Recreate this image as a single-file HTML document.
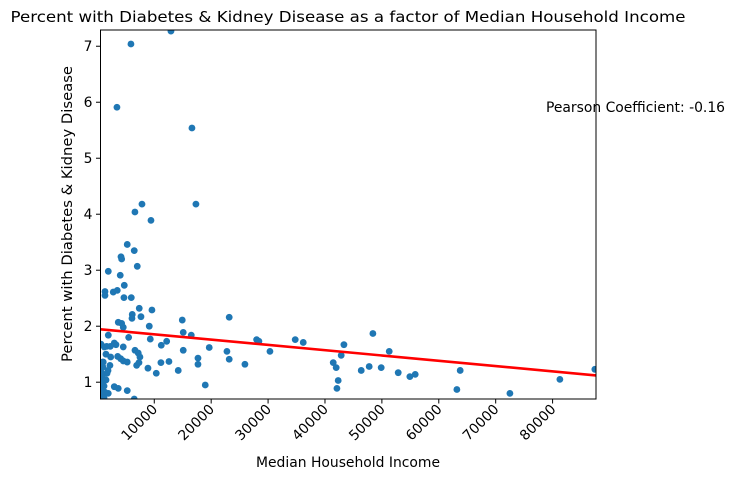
<!DOCTYPE html>
<html><head><meta charset="utf-8"><style>
html,body{margin:0;padding:0;background:#fff;}
svg{display:block;font-family:"DejaVu Sans","Liberation Sans",sans-serif;}
</style></head><body>
<svg id="chart" width="735" height="480" viewBox="0 0 735 480">
<text x="348" y="22" text-anchor="middle" font-size="15.5" textLength="675" lengthAdjust="spacingAndGlyphs" fill="#000">Percent with Diabetes &amp; Kidney Disease as a factor of Median Household Income</text>
<g id="plot"></g>
<text x="348" y="467" text-anchor="middle" font-size="13.9" textLength="184" lengthAdjust="spacingAndGlyphs">Median Household Income</text>
<text transform="translate(72,214) rotate(-90)" text-anchor="middle" font-size="13.9" textLength="296" lengthAdjust="spacingAndGlyphs">Percent with Diabetes &amp; Kidney Disease</text>
<text x="546" y="112" font-size="13.9" textLength="179" lengthAdjust="spacingAndGlyphs">Pearson Coefficient: -0.16</text>
</svg>
<script>
const income = [5900,12930,3440,16620,17320,7840,6600,9420,5250,6480,4150,4270,7010,1920,4020,4730,1340,1340,2790,3500,4670,5960,7360,9590,6130,6080,7660,14920,23170,3670,4270,4550,9120,15090,16500,1920,5500,9300,2970,3270,4550,11230,12180,630,1630,2270,19660,22770,15090,6610,7190,7480,1510,2340,3570,4090,4550,5250,17680,23170,6900,7310,17680,25930,1040,2210,8890,12580,11170,14210,10350,18960,2970,3670,5250,6480,1920,1210,930,980,640,810,990,1170,640,1340,810,1520,990,460,1170,1700,1870,30330,27990,28390,34770,36180,41450,41970,42320,42100,42850,43330,46370,47770,49880,48420,51290,52870,54920,55860,63760,63180,72500,81280,87430];
const percent = [7.04,7.27,5.91,5.54,4.18,4.18,4.04,3.89,3.46,3.35,3.24,3.20,3.07,2.98,2.91,2.73,2.62,2.55,2.61,2.64,2.51,2.51,2.32,2.29,2.21,2.14,2.17,2.11,2.16,2.07,2.05,1.98,2.00,1.89,1.84,1.84,1.80,1.77,1.70,1.67,1.63,1.66,1.73,1.68,1.64,1.64,1.62,1.55,1.57,1.57,1.52,1.45,1.50,1.45,1.46,1.42,1.38,1.36,1.43,1.41,1.30,1.35,1.32,1.32,1.36,1.30,1.25,1.37,1.35,1.21,1.16,0.95,0.92,0.89,0.85,0.70,0.80,1.63,1.36,1.27,1.18,1.07,1.00,0.93,0.86,0.82,0.78,1.04,1.14,1.00,0.72,1.16,1.21,1.55,1.76,1.73,1.76,1.71,1.35,1.26,1.03,0.89,1.48,1.67,1.21,1.28,1.26,1.87,1.55,1.17,1.10,1.14,1.21,0.87,0.80,1.05,1.23];
const fitLine = [1.95, -0.00000946];
const xTicks = [10000,20000,30000,40000,50000,60000,70000,80000];
const xTickLabels = ["10000","20000","30000","40000","50000","60000","70000","80000"];
const yTicks = [1,2,3,4,5,6,7];
const yTickLabels = ["1","2","3","4","5","6","7"];
const X0=100.5,X1=596,Y0=399,Y1=30;
const xMin=550,xMax=87630,yMin=0.70,yMax=7.29;
const NS="http://www.w3.org/2000/svg";
function sx(v){return X0+(v-xMin)/(xMax-xMin)*(X1-X0);}
function sy(v){return Y0-(v-yMin)/(yMax-yMin)*(Y0-Y1);}
const plot=document.getElementById('plot');
function mk(tag,attrs,parent){const e=document.createElementNS(NS,tag);for(const k in attrs)e.setAttribute(k,attrs[k]);(parent||plot).appendChild(e);return e;}
const defs=mk('defs',{});
const cp=mk('clipPath',{id:'clip'},defs);
mk('rect',{x:X0,y:Y1,width:X1-X0,height:Y0-Y1},cp);
const pts=mk('g',{'clip-path':'url(#clip)'});


for(let i=0;i<income.length;i++){
  const c=mk('circle',{cx:sx(income[i]),cy:sy(percent[i]),r:3.4,fill:'#1f77b4'},pts);
  
  
}
const ln=mk('line',{x1:sx(xMin),y1:sy(fitLine[0]+fitLine[1]*xMin),x2:sx(xMax),y2:sy(fitLine[0]+fitLine[1]*xMax),stroke:'#ff0000','stroke-width':2.6,'clip-path':'url(#clip)'});


const frame=mk('rect',{x:X0,y:Y1,width:X1-X0,height:Y0-Y1,fill:'none',stroke:'#000','stroke-width':1});


xTicks.forEach((t,i)=>{
  const x=sx(t);
  const tk=mk('line',{x1:x,y1:Y0,x2:x,y2:Y0+4.5,stroke:'#000','stroke-width':1});
  
  
  const tx=mk('text',{transform:`translate(${x+4},${Y0+11}) rotate(-45)`,'text-anchor':'end','font-size':13.9});
  tx.textContent=xTickLabels[i];
  
  
});
yTicks.forEach((t,i)=>{
  const y=sy(t);
  const tk=mk('line',{x1:X0-4.5,y1:y,x2:X0,y2:y,stroke:'#000','stroke-width':1});
  
  
  const tx=mk('text',{x:X0-8,y:y+5,'text-anchor':'end','font-size':13.9});
  tx.textContent=yTickLabels[i];
  
  
});
</script>
</body></html>
